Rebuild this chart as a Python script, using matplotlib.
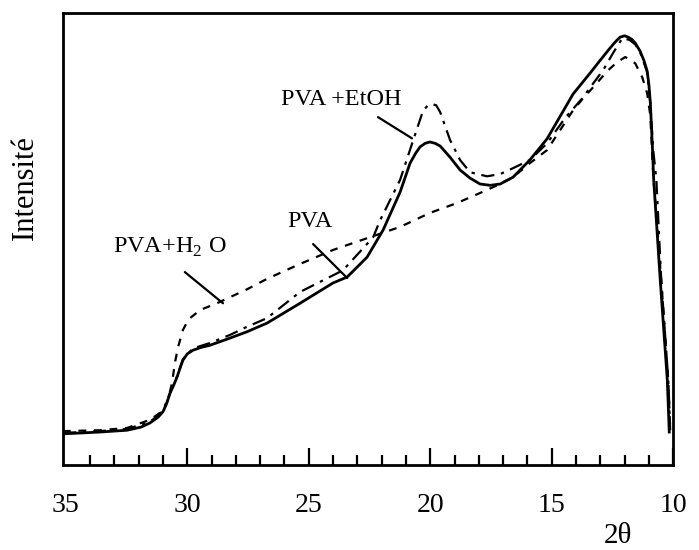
import numpy as np
import matplotlib
matplotlib.use("Agg")
import matplotlib.pyplot as plt
from matplotlib.ticker import MultipleLocator

plt.rcParams['font.family'] = ['Liberation Serif', 'DejaVu Serif']
plt.rcParams['mathtext.fontset'] = 'custom'
plt.rcParams['mathtext.rm'] = 'Liberation Serif'

# X-ray diffraction profiles, 2theta (deg) vs intensity (a.u.)
pva_2theta = [35.12, 33.60, 32.48, 31.90, 31.54, 31.20, 31.00, 30.85, 30.71, 30.55,
              30.42, 30.30, 30.18, 30.00, 29.77, 29.45, 29.07, 28.24, 27.54, 26.72,
              25.36, 24.00, 23.42, 22.60, 21.94, 21.24, 20.83, 20.60, 20.42, 20.21,
              20.01, 19.80, 19.59, 19.18, 18.77, 18.36, 17.95, 17.53, 17.12, 16.59,
              15.90, 15.19, 14.12, 13.41, 13.00, 12.70, 12.47, 12.30, 12.18, 12.00,
              11.85, 11.70, 11.56, 11.36, 11.20, 11.07, 11.00, 10.94, 10.86, 10.80,
              10.53, 10.24, 10.16]
pva_int = [6.9, 7.3, 7.7, 8.4, 9.3, 10.6, 11.8, 13.6, 15.9, 17.8,
           19.5, 21.4, 23.2, 24.6, 25.4, 26.0, 26.5, 28.1, 29.5, 31.4,
           35.8, 40.3, 41.6, 46.0, 52.0, 60.4, 66.8, 69.0, 70.4, 71.2,
           71.5, 71.2, 70.6, 68.1, 65.3, 63.5, 62.2, 61.9, 62.2, 63.7,
           67.5, 72.2, 82.1, 86.8, 89.6, 91.6, 93.1, 94.1, 94.7, 95.0,
           94.7, 94.2, 93.4, 91.6, 89.5, 87.2, 84.3, 80.3, 71.2, 63.1,
           40.9, 18.8, 7.3]

etoh_2theta = [35.12, 33.60, 32.48, 31.54, 31.00, 30.71, 30.42, 30.18, 29.77, 29.07,
               28.24, 27.54, 26.72, 25.36, 23.59, 22.35, 22.06, 21.24, 20.70, 20.29,
               20.09, 19.92, 19.75, 19.59, 19.18, 18.77, 18.36, 17.66, 17.12, 16.59,
               15.90, 15.19, 14.45, 13.70, 13.41, 12.88, 12.47, 12.09, 11.80, 11.56,
               11.36, 11.07, 10.94, 10.82, 10.69, 10.49, 10.20, 10.12]
etoh_int = [7.1, 7.5, 8.0, 9.5, 12.0, 16.0, 19.6, 23.4, 25.8, 27.0,
            28.8, 30.6, 32.5, 38.3, 43.1, 50.4, 54.2, 63.1, 71.9, 78.5,
            79.6, 79.9, 79.6, 78.1, 71.9, 67.5, 64.8, 63.9, 64.4, 65.7,
            67.5, 71.2, 76.8, 81.4, 83.6, 87.4, 91.2, 94.5, 94.1, 93.1,
            91.4, 87.0, 80.1, 69.7, 63.1, 40.9, 18.8, 7.7]

h2o_2theta = [35.12, 33.60, 32.48, 31.54, 31.00, 30.80, 30.63, 30.51, 30.38, 30.18,
              30.05, 29.89, 29.68, 29.48, 28.78, 27.54, 26.72, 25.36, 24.00, 22.60,
              21.24, 20.01, 18.89, 17.95, 17.33, 16.59, 15.90, 15.19, 14.12, 13.70,
              13.21, 12.71, 12.30, 11.97, 11.56, 11.27, 11.07, 10.94, 10.82, 10.49,
              10.20, 10.12]
h2o_int = [7.5, 7.7, 8.2, 10.0, 12.0, 14.4, 18.1, 22.6, 26.1, 29.9,
           31.2, 32.5, 33.4, 34.3, 35.8, 38.9, 41.2, 44.5, 47.6, 50.2,
           52.7, 55.8, 58.0, 60.2, 61.7, 63.7, 66.8, 69.7, 78.5, 81.2,
           84.1, 87.2, 89.2, 90.3, 88.9, 85.8, 82.3, 77.4, 64.0, 40.9,
           18.8, 7.7]

fig = plt.figure(figsize=(6.99, 5.5), dpi=100)
ax = fig.add_axes([0.090, 0.1545, 0.873, 0.8215])

ax.plot(pva_2theta, pva_int, color='black', lw=2.0, linestyle='-')
ax.plot(etoh_2theta, etoh_int, color='black', lw=1.6, linestyle=(0, (6, 3, 1.5, 3)))
ax.plot(h2o_2theta, h2o_int, color='black', lw=1.6, linestyle=(0, (3.5, 3.5)))

# labels with leader lines
leader = dict(arrowstyle='-', lw=1.6, color='black', shrinkA=0, shrinkB=0)
ax.annotate('', xy=(28.53, 35.8), xytext=(30.10, 42.7), arrowprops=leader)
ax.text(30.71, 48.2, r'PVA+H$_{\mathrm{2}}$ O', fontsize=17.5, ha='center', va='center')
ax.annotate('', xy=(23.42, 41.4), xytext=(24.82, 48.9), arrowprops=leader)
ax.text(24.95, 53.8, 'PVA', fontsize=17.5, ha='center', va='center')
ax.annotate('', xy=(20.75, 72.3), xytext=(22.15, 77.0), arrowprops=leader)
ax.text(23.67, 80.8, 'PVA +EtOH', fontsize=17.5, ha='center', va='center')

ax.set_xlim(35.12, 10)
ax.set_ylim(0, 100)
ax.xaxis.set_major_locator(MultipleLocator(5))
ax.xaxis.set_minor_locator(MultipleLocator(1))
ax.set_yticks([])
ax.tick_params(axis='x', which='both', direction='in', top=False, width=1.6,
               labelsize=20, pad=20)
ax.tick_params(axis='x', which='major', length=12)
ax.tick_params(axis='x', which='minor', length=7)
for s in ax.spines.values():
    s.set_linewidth(2)

# the 35 mark sits on the frame, keep only its label
fig.canvas.draw()
for t in ax.xaxis.get_major_ticks():
    if abs(t.get_loc() - 35) < 1e-6:
        t.tick1line.set_visible(False)

fig.text(25 / 699, 1 - 188 / 550, 'Intensité', rotation=90, fontsize=22,
         ha='center', va='center')
fig.text(618 / 699, 1 - 536 / 550, '2θ', fontsize=21, ha='center', va='center')

fig.savefig('out.png', dpi=100)
